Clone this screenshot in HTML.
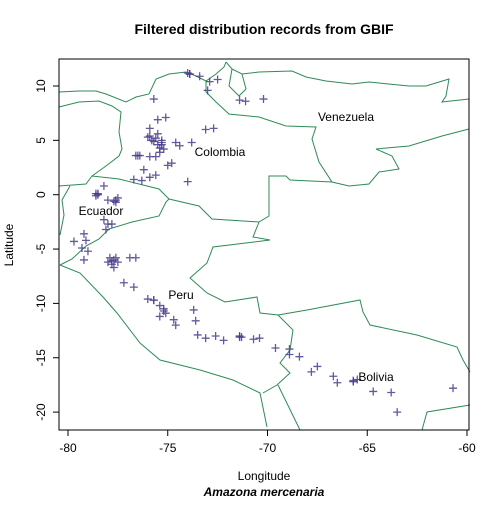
<!DOCTYPE html>
<html><head><meta charset="utf-8"><style>
body{margin:0;background:#fff;}
svg text{font-family:"Liberation Sans",Arial,sans-serif;}
</style></head><body>
<svg id="chart" width="500" height="500" viewBox="0 0 500 500">
<text x="264" y="34" text-anchor="middle" font-size="14" font-weight="bold">Filtered distribution records from GBIF</text>
<g id="map" fill="none" stroke="#2e8b57" stroke-width="1">
<polyline points="59,92 79,91 96,91 106,94 126,102 136,97 149,94 156,79 169,74 186,72 196,76 206,81 216,74 224,67 226,62"/>
<polyline points="226,62 232,69 242,74 259,72 292,71 306,77 326,81 352,84 369,82 409,86 426,86 449,79 446,96 442,102 469,99"/>
<polyline points="232,69 229,86 239,96 246,89 242,74"/>
<polyline points="59,107 79,102 99,101 112,106 121,112 119,132 122,149 119,156 106,166 92,176"/>
<polyline points="59,186 86,184 92,176 119,179 159,189 169,199 166,202 159,216 132,222 109,229 99,239 86,246 72,259 60,265"/>
<polyline points="169,199 199,206 212,219 259,222 269,216 269,176 286,176 290,180 332,182"/>
<polyline points="206,81 206,92 216,102 229,114 259,117 286,126 316,127 312,139 319,162 332,182 349,186 369,184 379,172 399,169 392,156 376,149 409,146 442,136 469,129"/>
<polyline points="70,186 62,200 64,215 60,235"/>
<polyline points="259,222 253,237 270,240 213,247 207,263 190,278 207,293 225,302 257,297 260,313 278,315 293,330 290,350 280,363 290,373 277,385 263,393"/>
<polyline points="60,265 80,273 103,297 117,313 140,343 160,360 200,370 233,380 260,393 267,427"/>
<polyline points="278,315 307,310 360,300 363,312 370,325 417,335 457,347 463,360 470,372"/>
<polyline points="422,430 427,412 470,405"/>
<polyline points="278,385 300,430"/>
</g>
<g id="points"></g>
<rect x="59" y="59" width="410" height="371" fill="none" stroke="#000"/>
<text x="220" y="156" text-anchor="middle" font-size="12">Colombia</text>
<text x="346" y="121" text-anchor="middle" font-size="12">Venezuela</text>
<text x="101" y="215" text-anchor="middle" font-size="12">Ecuador</text>
<text x="181" y="299" text-anchor="middle" font-size="12">Peru</text>
<text x="376" y="381" text-anchor="middle" font-size="12">Bolivia</text>
<g id="axes" font-size="12"></g>
<text x="264" y="480" text-anchor="middle" font-size="12">Longitude</text>
<text x="264" y="496" text-anchor="middle" font-size="12" font-weight="bold" font-style="italic">Amazona mercenaria</text>
<text transform="translate(13,245) rotate(-90)" text-anchor="middle" font-size="12">Latitude</text>
</svg>
<script>
const lons=[-74.0,-73.9,-73.4,-72.9,-72.5,-73.0,-71.4,-71.1,-70.2,-75.7,-75.5,-75.1,-75.9,-75.9,-75.8,-75.3,-75.3,-75.4,-74.6,-74.4,-73.1,-72.7,-73.8,-76.6,-76.4,-75.9,-75.6,-75.0,-74.8,-76.2,-75.9,-75.6,-76.7,-76.3,-74.0,-78.2,-78.6,-78.5,-78.0,-77.6,-77.5,-78.2,-78.0,-77.8,-78.1,-79.2,-79.1,-79.3,-79.0,-79.7,-79.2,-77.9,-77.6,-77.8,-77.5,-78.0,-77.7,-76.9,-76.6,-77.2,-76.7,-76.0,-75.7,-75.4,-75.2,-75.1,-75.4,-74.7,-74.6,-73.7,-73.6,-73.5,-73.1,-72.6,-71.4,-71.3,-72.2,-70.7,-70.4,-69.6,-68.9,-68.9,-68.4,-67.8,-67.5,-66.7,-66.5,-65.7,-65.5,-64.7,-63.8,-63.5,-60.7,-76.0,-75.7,-75.5,-75.2,-77.7,-73.9,-75.3,-75.5,-76.5,-78.5,-77.7,-77.8,-75.7,-75.2,-71.4,-65.7,-75.4,-75.6,-78.6,-77.6];
const lats=[11.2,11.1,10.9,10.4,10.6,9.6,8.7,8.6,8.8,8.8,6.9,7.1,6.1,5.4,5.0,5.0,4.6,3.9,4.8,4.5,6.0,6.1,4.8,3.6,3.6,3.5,3.5,2.7,2.9,2.3,1.6,1.8,1.4,1.3,1.2,0.8,0.1,0.0,-0.5,-0.7,-0.3,-2.3,-2.7,-2.7,-3.2,-3.6,-4.2,-4.9,-5.2,-4.3,-6.0,-5.8,-5.8,-6.4,-6.2,-6.2,-6.7,-5.8,-5.8,-8.1,-8.5,-9.6,-9.7,-10.2,-10.7,-10.9,-11.2,-11.5,-12.0,-10.6,-11.6,-12.9,-13.2,-13.0,-13.0,-13.1,-13.4,-13.3,-13.2,-14.1,-14.2,-14.7,-14.9,-16.3,-15.8,-16.7,-17.3,-17.1,-17.0,-18.1,-18.2,-20.0,-17.8,5.3,4.9,5.6,4.2,-6.0,11.1,4.8,4.6,3.6,0.1,-0.6,-6.1,-9.7,-10.5,-13.1,-17.2,4.3,5.2,-0.1,-0.5];
const xTicks=[-80,-75,-70,-65,-60];
const yTicks=[-20,-15,-10,-5,0,5,10];
const xS=v=>68+(v+80)*19.95;
const yS=v=>86-(v-10)*10.87;
const NS="http://www.w3.org/2000/svg";
const pg=document.getElementById('points');
for(let i=0;i<lons.length;i++){
  const p=document.createElementNS(NS,'path');
  const x=xS(lons[i]),y=yS(lats[i]);
  p.setAttribute('d',`M${x-4},${y}H${x+4}M${x},${y-4}V${y+4}`);
  p.setAttribute('stroke','#483d8b');p.setAttribute('stroke-width','1.3');p.setAttribute('opacity','0.85');
  
  
  pg.appendChild(p);
}
const ax=document.getElementById('axes');
xTicks.forEach(t=>{
  const l=document.createElementNS(NS,'line');
  l.setAttribute('x1',xS(t));l.setAttribute('x2',xS(t));l.setAttribute('y1',430);l.setAttribute('y2',436);l.setAttribute('stroke','#000');
  
  
  ax.appendChild(l);
  const tx=document.createElementNS(NS,'text');
  tx.setAttribute('x',xS(t));tx.setAttribute('y',452);tx.setAttribute('text-anchor','middle');tx.textContent=t;
  
  
  ax.appendChild(tx);
});
yTicks.forEach(t=>{
  const l=document.createElementNS(NS,'line');
  l.setAttribute('x1',53);l.setAttribute('x2',59);l.setAttribute('y1',yS(t));l.setAttribute('y2',yS(t));l.setAttribute('stroke','#000');
  
  
  ax.appendChild(l);
  const tx=document.createElementNS(NS,'text');
  tx.setAttribute('transform',`translate(45,${yS(t)}) rotate(-90)`);tx.setAttribute('text-anchor','middle');tx.textContent=t;
  
  
  ax.appendChild(tx);
});
</script>
</body></html>
